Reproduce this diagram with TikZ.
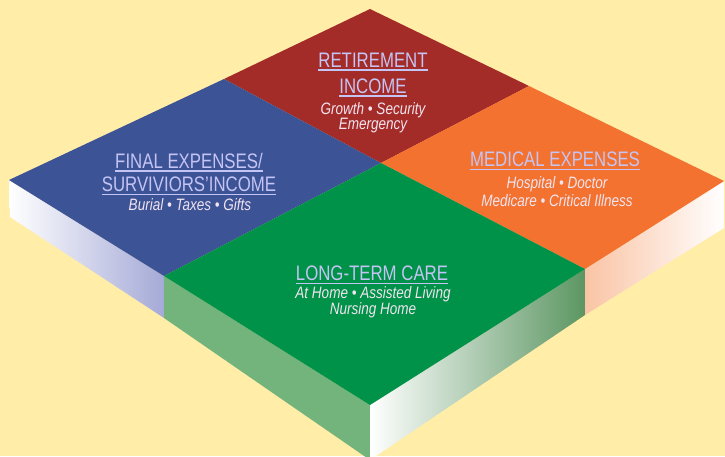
\documentclass[tikz,border=0pt]{standalone}
\usepackage{fontspec}
\setmainfont{Liberation Sans}
\newfontfamily\headfont[FakeStretch=0.8]{Liberation Sans}
\newfontfamily\subfont[FakeStretch=0.82]{Liberation Sans}
\newcommand\hdline[1]{\leavevmode\vtop{\hbox{#1}\kern1.8pt\hrule height1.4pt}}

\definecolor{bgyellow}{RGB}{255,237,168}
\definecolor{retred}{RGB}{164,44,40}
\definecolor{finblue}{RGB}{60,83,150}
\definecolor{medorange}{RGB}{243,114,48}
\definecolor{ltcgreen}{RGB}{0,146,72}
\definecolor{headlav}{RGB}{196,196,245}
\definecolor{subpale}{RGB}{242,228,240}
\definecolor{sideblue}{RGB}{165,170,215}
\definecolor{sidegreen}{RGB}{114,180,124}
\definecolor{sidegreendk}{RGB}{92,150,98}
\definecolor{sidepeach}{RGB}{250,196,165}

\begin{document}
\begin{tikzpicture}[x=1pt, y=-1pt]
	\tikzstyle{head}=[text=headlav, align=center, inner sep=0pt, anchor=north, font=\headfont\fontsize{21}{25.5}\selectfont]
	\tikzstyle{sub}=[text=subpale, align=center, inner sep=0pt, anchor=north, font=\subfont\itshape\fontsize{16.5}{16.7}\selectfont]

	\fill[bgyellow] (0,0) rectangle (725,456);
	\clip (0,0) rectangle (725,456);

	% corners of the slab
	\coordinate (T) at (370,9);
	\coordinate (L) at (9,180);
	\coordinate (R) at (724,181);
	\coordinate (B) at (370,405);
	\coordinate (C) at (381,163);
	\coordinate (TL) at (224,79);
	\coordinate (TR) at (529,86);
	\coordinate (BL) at (164,276);
	\coordinate (BR) at (585,269);
	\coordinate (L') at (10,217);
	\coordinate (BL') at (164,318);
	\coordinate (B') at (370,460);
	\coordinate (BR') at (585,315);
	\coordinate (R') at (724,228);

	% sides
	\shade[left color=white, right color=sideblue] (L) -- (BL) -- (BL') -- (L') -- cycle;
	\fill[sidegreen] (BL) -- (B) -- (B') -- (BL') -- cycle;
	\shade[left color=white, middle color=sidegreen!80, right color=sidegreendk] (B) -- (BR) -- (BR') -- (B') -- cycle;
	\shade[left color=sidepeach, right color=white] (BR) -- (R) -- (R') -- (BR') -- cycle;

	% top
	\fill[retred] (T) -- (TR) -- (C) -- (TL) -- cycle;
	\fill[finblue] (TL) -- (C) -- (BL) -- (L) -- cycle;
	\fill[medorange] (TR) -- (R) -- (BR) -- (C) -- cycle;
	\fill[ltcgreen] (C) -- (BR) -- (B) -- (BL) -- cycle;

	\node[head] (retirehead) at (373,53) {\hdline{RETIREMENT}\\\hdline{INCOME}};
	\node[sub, font=\subfont\itshape\fontsize{16.5}{15}\selectfont] (retiresub) at (373,102) {Growth • Security\\Emergency};

	\node[head, font=\headfont\fontsize{21}{23.3}\selectfont] (finalhead) at (189,153) {\hdline{FINAL EXPENSES/}\\\hdline{SURVIVIORS’INCOME}};
	\node[sub] (finalsub) at (190,198) {Burial • Taxes • Gifts};

	\node[head] (medhead) at (555,152) {\hdline{MEDICAL EXPENSES}};
	\node[sub, font=\subfont\itshape\fontsize{16.5}{18}\selectfont] (medsub) at (557,176) {Hospital • Doctor\\Medicare • Critical Illness};

	\node[head] (ltchead) at (372,266) {\hdline{LONG-TERM CARE}};
	\node[sub] (ltcsub) at (373,286) {At Home • Assisted Living\\Nursing Home};
\end{tikzpicture}
\end{document}
